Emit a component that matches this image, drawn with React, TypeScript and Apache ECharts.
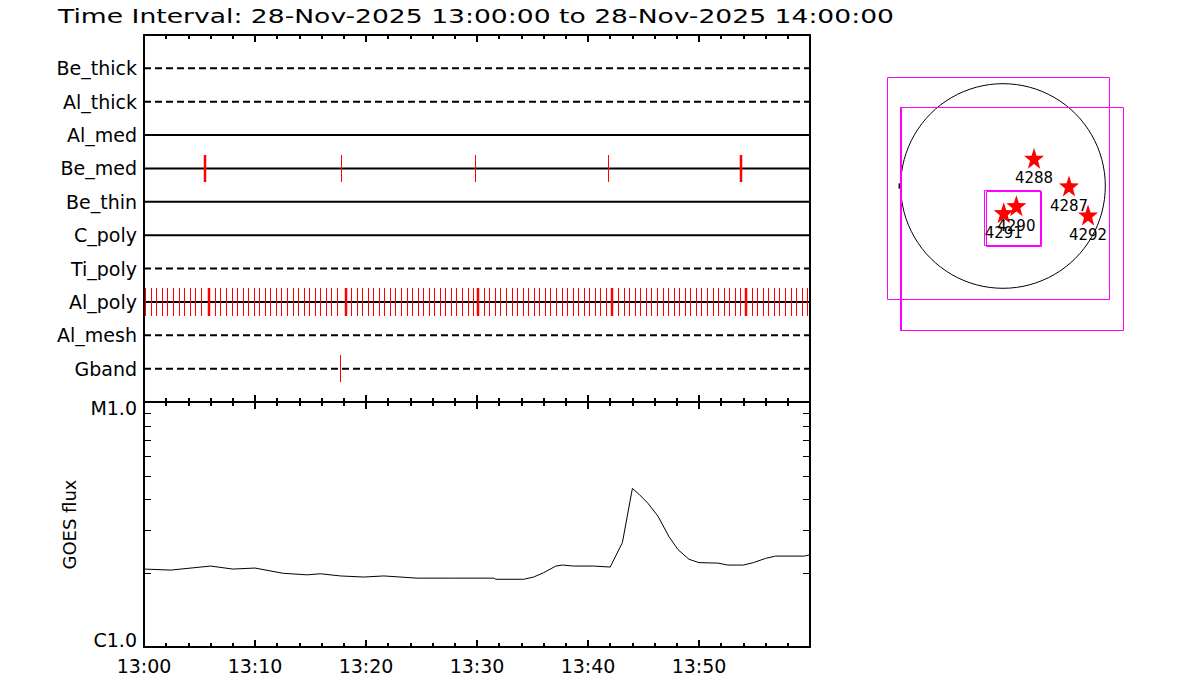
import React, { useEffect, useRef } from 'react';
import * as echarts from 'echarts';

const OBS_DATE = '28-Nov-2025';
const START_TIME = '13:00:00';
const END_TIME = '14:00:00';

const ROW_NAMES = ['Be_thick', 'Al_thick', 'Al_med', 'Be_med', 'Be_thin', 'C_poly', 'Ti_poly', 'Al_poly', 'Al_mesh', 'Gband'];
const ROW_DASHED = [true, true, false, false, false, false, true, false, true, true];

const TIME_LABELS = ['13:00', '13:10', '13:20', '13:30', '13:40', '13:50'];

// exposure times, seconds after 13:00:00
const BE_MED_SEC = [1067, 1787, 2507];
const BE_MED_BOLD_SEC = [330, 3227];
const AL_POLY_SEC = [
  7, 37, 67, 97, 127, 157, 187, 217, 247, 277, 307,
  383, 413, 443, 473, 503, 533, 563, 593, 623, 653, 683, 713, 743, 773, 803, 833, 863, 893, 923, 953, 983, 1013, 1043,
  1119, 1149, 1179, 1209, 1239, 1269, 1299, 1329, 1359, 1389, 1419, 1449, 1479, 1509, 1539, 1569, 1599, 1629, 1659, 1689, 1719, 1749, 1779,
  1837, 1867, 1897, 1927, 1957, 1987, 2017, 2047, 2077, 2107, 2137, 2167, 2197, 2227, 2257, 2287, 2317, 2347, 2377, 2407, 2437, 2467, 2497,
  2563, 2593, 2623, 2653, 2683, 2713, 2743, 2773, 2803, 2833, 2863, 2893, 2923, 2953, 2983, 3013, 3043, 3073, 3103, 3133, 3163, 3193, 3223,
  3285, 3315, 3345, 3375, 3405, 3435, 3465, 3495, 3525, 3555, 3585,
];
const AL_POLY_BOLD_SEC = [353, 1092, 1806, 2532, 3254];
const GBAND_SEC = [1059];

// GOES flux: minutes after 13:00, flux in units of 1e-6 W/m^2
const GOES_MIN = [0, 2.4, 6.0, 8.0, 10.0, 12.5, 14.7, 15.9, 17.7, 19.8, 21.6, 24.6, 27.6, 31.5, 31.7, 34.2, 35.1, 36.0, 37.1, 37.7, 38.7, 40.5, 42.0, 43.1, 44.0, 44.6, 45.4, 46.3, 47.3, 48.1, 49.1, 50.0, 51.7, 52.6, 54.0, 54.9, 56.0, 56.9, 59.5, 60];
const GOES_FLUX = [2.08, 2.06, 2.14, 2.08, 2.10, 2.00, 1.97, 1.99, 1.95, 1.93, 1.95, 1.91, 1.91, 1.91, 1.89, 1.89, 1.93, 2.01, 2.14, 2.16, 2.14, 2.14, 2.12, 2.67, 4.44, 4.20, 3.86, 3.42, 2.82, 2.50, 2.28, 2.21, 2.20, 2.16, 2.16, 2.21, 2.30, 2.35, 2.35, 2.38];
const FLUX_UNIT = 1e-6;
const LOG_MINOR = [2, 3, 4, 5, 6, 7, 8, 9];

// solar map, arcsec
const SUN_RADIUS = 972;
const FOV_CX = [-48, 83, 85, 97];
const FOV_CY = [-22, -307, -302, -312];
const FOV_SIZE = [2110, 2115, 525, 525];
const FOV_BOLD_LEFT = [0, 1, 0, 0];
const LIMB_MARK = [-985, 0];
const REGION_NUMS = ['4287', '4288', '4290', '4291', '4292'];
const REGION_X = [627, 295, 127, 7, 808];
const REGION_Y = [0, 263, -187, -254, -276];

const FONT = 'DejaVu Sans';
const STAR = 'path://M0,-10 L2.35,-3.24 L9.51,-3.09 L3.80,1.24 L5.88,8.09 L0,4 L-5.88,8.09 L-3.80,1.24 L-9.51,-3.09 L-2.35,-3.24 Z';

const crisp = (x: number, w: number) => (w <= 1.2 ? Math.round(x) + 0.5 : Math.round(x));

function buildOption() {
  const rowOf = (n: string) => ROW_NAMES.indexOf(n) + 1;
  const tickData: number[][] = [];
  BE_MED_SEC.forEach((s) => tickData.push([s / 60, rowOf('Be_med'), 1]));
  BE_MED_BOLD_SEC.forEach((s) => tickData.push([s / 60, rowOf('Be_med'), 2.5]));
  AL_POLY_SEC.forEach((s) => tickData.push([s / 60, rowOf('Al_poly'), 1]));
  AL_POLY_BOLD_SEC.forEach((s) => tickData.push([s / 60, rowOf('Al_poly'), 2.5]));
  GBAND_SEC.forEach((s) => tickData.push([s / 60, rowOf('Gband'), 1]));

  const timeAxis = (gridIndex: number, position: string, showLabel: boolean) => ({
    type: 'value',
    gridIndex,
    position,
    min: 0,
    max: 60,
    interval: 10,
    axisLine: { show: true, onZero: false, lineStyle: { color: '#000', width: 2 } },
    axisTick: { show: true, inside: true, length: 7, lineStyle: { color: '#000', width: 2 } },
    minorTick: { show: true, splitNumber: 5, length: 4, lineStyle: { color: '#000', width: 2 } },
    splitLine: { show: false },
    minorSplitLine: { show: false },
    axisLabel: {
      show: showLabel,
      color: '#000',
      fontSize: 19,
      fontFamily: FONT,
      margin: 9,
      formatter: (v: number) => TIME_LABELS[Math.round(v / 10)] ?? '',
    },
  });

  const rowLines = ROW_NAMES.map((name, i) => ({
    type: 'line',
    name,
    xAxisIndex: 0,
    yAxisIndex: 0,
    silent: true,
    showSymbol: false,
    data: [[0, i + 1], [60, i + 1]],
    lineStyle: { color: '#000', width: 2, type: ROW_DASHED[i] ? [7, 4] : 'solid' },
    z: 2,
  }));

  return {
    animation: false,
    backgroundColor: '#fff',
    textStyle: { fontFamily: FONT },
    graphic: [
      {
        type: 'text',
        x: 58,
        y: 16,
        scaleX: 1.4,
        style: {
          text: `Time Interval: ${OBS_DATE} ${START_TIME} to ${OBS_DATE} ${END_TIME}`,
          fill: '#000',
          fontSize: 19,
          fontFamily: FONT,
          verticalAlign: 'middle',
          align: 'left',
        },
      },
    ],
    grid: [
      { left: 144, top: 35, width: 666, height: 367 },
      { left: 144, top: 402, width: 666, height: 245 },
      { left: 853, top: 36, width: 300, height: 300 },
    ],
    xAxis: [
      timeAxis(0, 'top', false),
      timeAxis(0, 'bottom', false),
      timeAxis(1, 'top', false),
      timeAxis(1, 'bottom', true),
      { type: 'value', gridIndex: 2, min: -1425, max: 1425, show: false },
    ],
    yAxis: [
      {
        type: 'value',
        gridIndex: 0,
        position: 'left',
        min: 0,
        max: 11,
        interval: 1,
        inverse: true,
        axisLine: { show: true, onZero: false, lineStyle: { color: '#000', width: 2 } },
        axisTick: { show: false },
        splitLine: { show: false },
        axisLabel: {
          color: '#000',
          fontSize: 19,
          fontFamily: FONT,
          margin: 7,
          formatter: (v: number) => ROW_NAMES[Math.round(v) - 1] ?? '',
        },
      },
      {
        type: 'value',
        gridIndex: 0,
        position: 'right',
        min: 0,
        max: 11,
        inverse: true,
        axisLine: { show: true, onZero: false, lineStyle: { color: '#000', width: 2 } },
        axisTick: { show: false },
        axisLabel: { show: false },
        splitLine: { show: false },
      },
      {
        type: 'log',
        logBase: 10,
        gridIndex: 1,
        position: 'left',
        min: 1e-6,
        max: 1e-5,
        axisLine: { show: true, onZero: false, lineStyle: { color: '#000', width: 2 } },
        axisTick: { show: false },
        splitLine: { show: false },
        name: 'GOES flux',
        nameLocation: 'middle',
        nameGap: 66,
        nameTextStyle: { color: '#000', fontSize: 18, fontFamily: FONT },
        axisLabel: {
          color: '#000',
          fontSize: 19,
          fontFamily: FONT,
          margin: 7,
          formatter: (v: number) => {
            const e = Math.round(Math.log10(v));
            if (e === -5) return '{hi|M1.0}';
            if (e === -6) return '{lo|C1.0}';
            return '';
          },
          rich: {
            hi: { padding: [12, 0, 0, 0], fontSize: 19, fontFamily: FONT, color: '#000' },
            lo: { padding: [0, 0, 14, 0], fontSize: 19, fontFamily: FONT, color: '#000' },
          },
        },
      },
      {
        type: 'log',
        logBase: 10,
        gridIndex: 1,
        position: 'right',
        min: 1e-6,
        max: 1e-5,
        axisLine: { show: true, onZero: false, lineStyle: { color: '#000', width: 2 } },
        axisTick: { show: false },
        axisLabel: { show: false },
        splitLine: { show: false },
      },
      { type: 'value', gridIndex: 2, min: -1425, max: 1425, show: false },
    ],
    series: [
      ...rowLines,
      {
        type: 'custom',
        name: 'exposures',
        xAxisIndex: 0,
        yAxisIndex: 0,
        silent: true,
        z: 3,
        data: tickData,
        renderItem: (_p: any, api: any) => {
          const t = api.value(0);
          const row = api.value(1);
          const w = api.value(2);
          const a = api.coord([t, row - 0.41]);
          const b = api.coord([t, row + 0.41]);
          const x = crisp(a[0], w);
          return {
            type: 'line',
            shape: { x1: x, y1: Math.round(a[1]), x2: x, y2: Math.round(b[1]) },
            style: { stroke: '#ff0000', lineWidth: w },
          };
        },
      },
      {
        type: 'line',
        name: 'GOES',
        xAxisIndex: 3,
        yAxisIndex: 2,
        silent: true,
        showSymbol: false,
        data: GOES_MIN.map((m, i) => [m, GOES_FLUX[i] * FLUX_UNIT]),
        lineStyle: { color: '#000', width: 1 },
      },
      {
        type: 'custom',
        name: 'logMinor',
        xAxisIndex: 3,
        yAxisIndex: 2,
        silent: true,
        data: LOG_MINOR.map((m) => [0, m * FLUX_UNIT]),
        renderItem: (_p: any, api: any) => {
          const v = api.value(1);
          const l = api.coord([0, v]);
          const r = api.coord([60, v]);
          const y = crisp(l[1], 1);
          return {
            type: 'group',
            children: [
              { type: 'line', shape: { x1: l[0], y1: y, x2: l[0] + 7, y2: y }, style: { stroke: '#000', lineWidth: 1 } },
              { type: 'line', shape: { x1: r[0] - 7, y1: y, x2: r[0], y2: y }, style: { stroke: '#000', lineWidth: 1 } },
            ],
          };
        },
      },
      {
        type: 'custom',
        name: 'sun',
        xAxisIndex: 4,
        yAxisIndex: 4,
        silent: true,
        data: [[0, 0, SUN_RADIUS]],
        renderItem: (_p: any, api: any) => {
          const c = api.coord([api.value(0), api.value(1)]);
          const r = api.size([api.value(2), 0])[0];
          return { type: 'circle', shape: { cx: c[0], cy: c[1], r }, style: { stroke: '#000', lineWidth: 1, fill: 'none' } };
        },
      },
      {
        type: 'custom',
        name: 'limb',
        xAxisIndex: 4,
        yAxisIndex: 4,
        silent: true,
        data: [LIMB_MARK],
        renderItem: (_p: any, api: any) => {
          const a = api.coord([api.value(0), api.value(1) + 25]);
          const b = api.coord([api.value(0), api.value(1) - 25]);
          return { type: 'line', shape: { x1: a[0], y1: a[1], x2: b[0], y2: b[1] }, style: { stroke: '#000', lineWidth: 1.5 } };
        },
      },
      {
        type: 'custom',
        name: 'fov',
        xAxisIndex: 4,
        yAxisIndex: 4,
        silent: true,
        data: FOV_CX.map((x, i) => [x, FOV_CY[i], FOV_SIZE[i], FOV_BOLD_LEFT[i]]),
        renderItem: (_p: any, api: any) => {
          const cx = api.value(0);
          const cy = api.value(1);
          const s = api.value(2);
          const bold = api.value(3);
          const p1 = api.coord([cx - s / 2, cy + s / 2]);
          const p2 = api.coord([cx + s / 2, cy - s / 2]);
          const x1 = Math.round(p1[0]) + 0.5;
          const y1 = Math.round(p1[1]) + 0.5;
          const x2 = Math.round(p2[0]) + 0.5;
          const y2 = Math.round(p2[1]) + 0.5;
          const children: any[] = [
            {
              type: 'rect',
              shape: { x: x1, y: y1, width: x2 - x1, height: y2 - y1 },
              style: { stroke: '#ff00ff', lineWidth: 1, fill: 'none' },
            },
          ];
          if (bold) {
            children.push({
              type: 'line',
              shape: { x1: x1 + 0.5, y1, x2: x1 + 0.5, y2 },
              style: { stroke: '#ff00ff', lineWidth: 2 },
            });
          }
          return { type: 'group', children };
        },
      },
      {
        type: 'scatter',
        name: 'regions',
        xAxisIndex: 4,
        yAxisIndex: 4,
        silent: true,
        symbol: STAR,
        symbolSize: [20, 21],
        itemStyle: { color: '#ff0000', opacity: 1 },
        label: {
          show: true,
          position: 'bottom',
          distance: 2,
          formatter: '{b}',
          color: '#000',
          fontSize: 15,
          fontFamily: FONT,
        },
        data: REGION_NUMS.map((n, i) => ({ name: n, value: [REGION_X[i], REGION_Y[i]] })),
      },
    ],
  };
}

export default function App() {
  const ref = useRef<HTMLDivElement>(null);
  useEffect(() => {
    if (!ref.current) return;
    const chart = echarts.init(ref.current, null, { renderer: 'svg' });
    chart.setOption(buildOption() as any);
    return () => chart.dispose();
  }, []);
  return (
    <div
      ref={ref}
      style={{ position: 'fixed', left: 0, top: 0, width: 1200, height: 700, background: '#fff' }}
    />
  );
}
